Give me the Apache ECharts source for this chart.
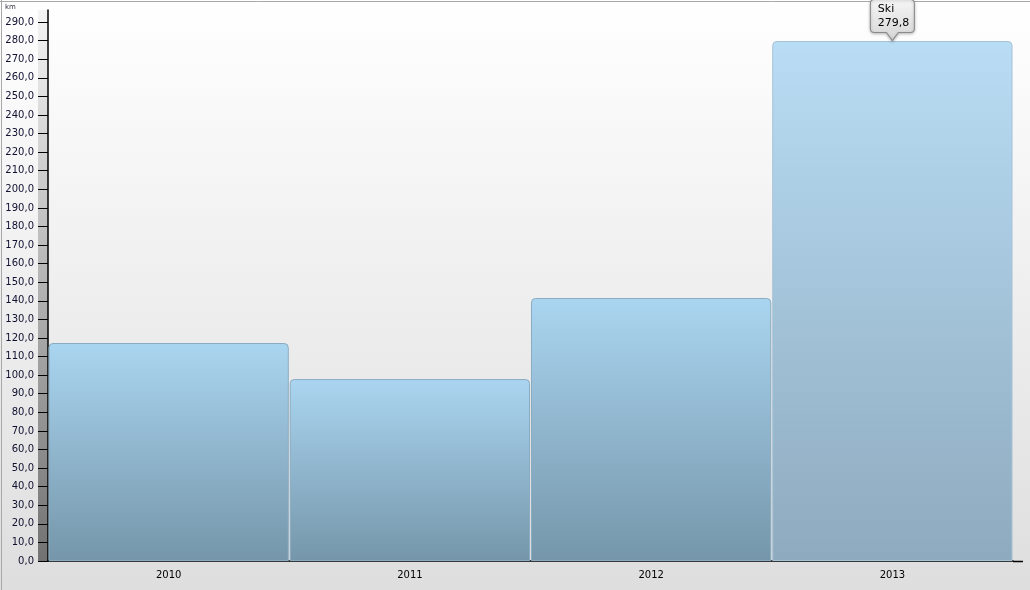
<!DOCTYPE html>
<html><head><meta charset="utf-8">
<script src="https://cdn.jsdelivr.net/npm/echarts@6/dist/echarts.min.js"></script>
<style>html,body{margin:0;padding:0;}#c{width:1030px;height:590px;}</style>
</head><body><div id="c"></div>
<script>
var categories = ['2010', '2011', '2012', '2013'];
var skiValues = [117.3, 97.9, 141.5, 279.8];
var yTicks = [0,10,20,30,40,50,60,70,80,90,100,110,120,130,140,150,160,170,180,190,200,210,220,230,240,250,260,270,280,290];
var seriesName = 'Ski';
var unitLabel = 'km';
var highlightIndex = 3;

function fmt(v){ return v.toFixed(1).replace('.', ','); }
function grad(a, b){ return new echarts.graphic.LinearGradient(0,0,0,1,[{offset:0,color:a},{offset:1,color:b}]); }

var barData = skiValues.map(function(v, i){
  return i === highlightIndex
    ? {value: v, itemStyle: {color: grad('#b9ddf5', '#8eaabe'), borderColor:'#a6c2d6'}}
    : {value: v};
});

var chart = echarts.init(document.getElementById('c'));
chart.setOption({
  animation: false,
  backgroundColor: grad('#ffffff', '#dedede'),
  grid: {left: 48, right: 17, top: 10, bottom: 29},
  graphic: [
    {type:'rect', shape:{x:38,y:10,width:10,height:551}, z:-1,
     style:{fill:grad('#f4f4f4', '#727272')}},
    {type:'line', shape:{x1:1013,y1:561.5,x2:1023,y2:561.5}, style:{stroke:'#000',lineWidth:1.5}},
    {type:'line', shape:{x1:0,y1:1.5,x2:1030,y2:1.5}, style:{stroke:'#a8a8a8',lineWidth:1}},
    {type:'line', shape:{x1:1.5,y1:0,x2:1.5,y2:590}, style:{stroke:'#a8a8a8',lineWidth:1}},
    {type:'text', left:5, top:4, style:{text:unitLabel, fontSize:7, fill:'#334', fontFamily:'DejaVu Sans'}}
  ],
  xAxis: {
    type:'category', data: categories,
    axisLine:{lineStyle:{color:'#000', width:1.5}},
    axisTick:{alignWithLabel:true, length:3, lineStyle:{color:'#999'}},
    axisLabel:{fontSize:10, color:'#000', margin:9, fontFamily:'DejaVu Sans'},
    splitLine:{show:false}
  },
  yAxis: {
    type:'value', min:0, max:296.5, interval:10,
    axisLine:{show:true, lineStyle:{color:'#000', width:1.5}},
    axisTick:{show:true, length:10, lineStyle:{color:'#000', width:1}, customValues: yTicks},
    axisLabel:{fontSize:10, color:'#101030', margin:14, fontFamily:'DejaVu Sans', customValues: yTicks,
      formatter:function(v){ return fmt(v); }},
    splitLine:{show:false}
  },
  series: [{
    name: seriesName, type:'bar', data: barData,
    barCategoryGap: '0%', barWidth: '99.6%',
    itemStyle:{
      color: grad('#aad5f0', '#7596aa'),
      borderColor:'#8aabc0', borderWidth:1, borderRadius:[4,4,0,0]
    },
    markPoint: {
      silent: true,
      data: [{
        coord: [categories[highlightIndex], skiValues[highlightIndex]],
        value: skiValues[highlightIndex]
      }],
      symbol: 'path://M4,0 H40 Q44,0 44,4 V29 Q44,33 40,33 H28 L22,41 L16,33 H4 Q0,33 0,29 V4 Q0,0 4,0 Z',
      symbolSize: [44, 41],
      symbolOffset: [0, -21],
      itemStyle: {
        color: grad('#f6f6f6', '#d6d6d6'),
        borderColor:'#8a8a8a', borderWidth:1,
        shadowColor:'rgba(0,0,0,0.25)', shadowBlur:3, shadowOffsetY:1
      },
      label: {
        show: true, position: [8, 3], align:'left', verticalAlign:'top',
        fontSize: 11, lineHeight: 14, color:'#000', fontFamily:'DejaVu Sans',
        formatter: function(p){ return seriesName + '\n' + fmt(p.value); }
      }
    }
  }]
});
</script></body></html>
